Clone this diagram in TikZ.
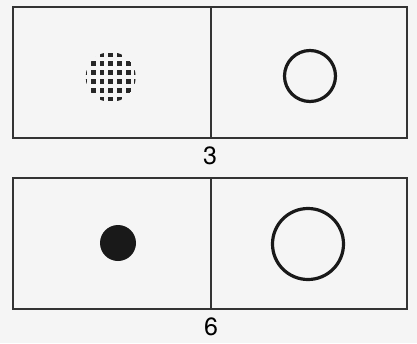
\documentclass[tikz,border=0pt]{standalone}
\usepackage{fontspec}
\setmainfont{TeX Gyre Heros}
\tikzset{
  panel/.style={draw=black!80, line width=1.2pt},
  ring/.style={draw=black!90, line width=3.2pt},
  caption/.style={font=\fontsize{25}{27}\selectfont, inner sep=0pt}
}
\begin{document}
\begin{tikzpicture}[x=1pt, y=-1pt]
  \useasboundingbox[fill=black!4] (0,0) rectangle (417,343);
  % Figure 3
  \draw[panel] (13,7) rectangle (407,138);
  \draw[panel] (211,7) -- (211,138);
  \begin{scope}
    \clip (110.7,77) circle (25);
    \foreach \i in {-3,...,3} {
      \foreach \j in {-3,...,2} {
        \fill[black!85] ({110.7+8.7*\i-2.4}, {77+8.8*(\j+0.5)-2.4}) rectangle ++(4.8,4.8);
      }
    }
  \end{scope}
  \draw[ring] (310,76) circle (25.5);
  \node[caption] (lab3) at (210,156) {3};
  % Figure 6
  \draw[panel] (13,178) rectangle (407,309);
  \draw[panel] (211,178) -- (211,309);
  \fill[black!90] (118,243) circle (18);
  \draw[ring] (308,244) circle (35.5);
  \node[caption] (lab6) at (211,327) {6};
\end{tikzpicture}
\end{document}
